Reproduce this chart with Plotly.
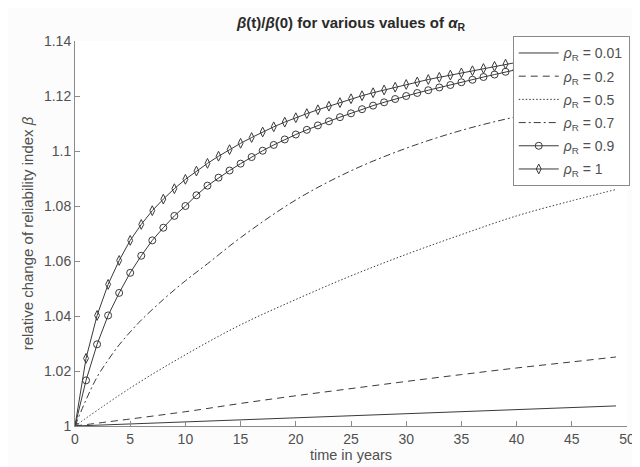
import plotly.graph_objects as go

# ---- data ----
years = list(range(0, 50))

# rho_R = 1 (diamonds), offsets above 1
rho_1 = [0.0, 0.0246, 0.0402, 0.0515, 0.0602, 0.0675, 0.0733, 0.0783, 0.0825, 0.0863,
         0.0897, 0.0927, 0.0955, 0.0981, 0.1005, 0.1028, 0.1049, 0.1069, 0.1088, 0.1105,
         0.1121, 0.1136, 0.1150, 0.1163, 0.1176, 0.1190, 0.1201, 0.1212, 0.1222, 0.1232,
         0.1242, 0.1251, 0.1260, 0.1268, 0.1276, 0.1284, 0.1292, 0.1300, 0.1308, 0.1316,
         0.1323, 0.1330, 0.1337, 0.1344, 0.1350, 0.1356, 0.1362, 0.1368, 0.1374, 0.1379]

# rho_R = 0.9 (circles)
rho_09 = [0.0, 0.0166, 0.0297, 0.0402, 0.0484, 0.0557, 0.0619, 0.0675, 0.0721, 0.0764,
          0.0800, 0.0839, 0.0874, 0.0903, 0.0929, 0.0954, 0.0978, 0.1001, 0.1022, 0.1042,
          0.1060, 0.1077, 0.1093, 0.1108, 0.1123, 0.1137, 0.1152, 0.1165, 0.1177, 0.1189,
          0.1200, 0.1211, 0.1221, 0.1231, 0.1240, 0.1250, 0.1259, 0.1269, 0.1278, 0.1288,
          0.1296, 0.1304, 0.1312, 0.1320, 0.1327, 0.1334, 0.1341, 0.1348, 0.1355, 0.1361]

# rho_R = 0.7 (dash-dot)
t_07 = [0, 1, 2, 3, 4, 5, 6, 8, 10, 12, 15, 20, 25, 30, 35, 40, 45, 49]
rho_07 = [0.0, 0.0095, 0.0178, 0.0240, 0.0295, 0.0342, 0.0385, 0.0460, 0.0528, 0.0590,
          0.0685, 0.0822, 0.0928, 0.1010, 0.1075, 0.1125, 0.1165, 0.1192]

# rho_R = 0.5 (dotted)
t_05 = [0, 5, 10, 15, 20, 25, 30, 35, 40, 45, 49]
rho_05 = [0.0, 0.0138, 0.0259, 0.0368, 0.0460, 0.0546, 0.0624, 0.0696, 0.0764, 0.0819, 0.0860]

# rho_R = 0.2 (dashed)
t_02 = [0, 10, 15, 20, 25, 30, 35, 40, 45, 49]
rho_02 = [0.0, 0.0052, 0.0082, 0.0110, 0.0136, 0.0162, 0.0187, 0.0211, 0.0233, 0.0251]

# rho_R = 0.01 (solid)
t_001 = [0, 10, 20, 30, 40, 49]
rho_001 = [0.0, 0.0015, 0.0030, 0.0045, 0.0060, 0.0073]

x_ticks = [0, 5, 10, 15, 20, 25, 30, 35, 40, 45, 50]
x_tick_labels = ["0", "5", "10", "15", "20", "25", "30", "35", "40", "45", "50"]
y_ticks = [1.0, 1.02, 1.04, 1.06, 1.08, 1.1, 1.12, 1.14]
y_tick_labels = ["1", "1.02", "1.04", "1.06", "1.08", "1.1", "1.12", "1.14"]

names = ["<i>ρ</i><sub>R</sub> = 0.01", "<i>ρ</i><sub>R</sub> = 0.2", "<i>ρ</i><sub>R</sub> = 0.5",
         "<i>ρ</i><sub>R</sub> = 0.7", "<i>ρ</i><sub>R</sub> = 0.9", "<i>ρ</i><sub>R</sub> = 1"]

LINE = "#3a3a3a"
AX = "#8a8a8a"
TXT = "#505050"
FONT = "Liberation Sans, Arial, Helvetica, sans-serif"

fig = go.Figure()

def add(x, y, name, group, dash="solid", symbol=None, spline=False):
    kw = {}
    if symbol:
        mode = "lines+markers"
        kw["marker"] = dict(symbol=symbol, size=7, color=LINE,
                            line=dict(color=LINE, width=1))
    else:
        mode = "lines"
    fig.add_trace(go.Scatter(
        x=x, y=[1 + v for v in y], name=name, mode=mode, legendgroup=group,
        line=dict(color=LINE, width=1, dash=dash,
                  shape="spline" if spline else "linear"),
        **kw))

add(t_001, rho_001, names[0], "a")
add(t_02, rho_02, names[1], "b", dash="7px,5px", spline=True)
add(t_05, rho_05, names[2], "c", dash="1.5px,2px", spline=True)
add(t_07, rho_07, names[3], "d", dash="7px,3px,2px,3px", spline=True)
add(years, rho_09, names[4], "e", symbol="circle-open")
add(years, rho_1, names[5], "f", symbol="diamond-tall-open")

fig.update_layout(
    width=640, height=467,
    margin=dict(l=67, r=21, t=33, b=49),
    paper_bgcolor="#fcfcfc",
    plot_bgcolor="#ffffff",
    font=dict(family=FONT, size=13, color=TXT),
    title=dict(text="<b><i>β</i>(t)/<i>β</i>(0) for various values of <i>α</i><sub>R</sub></b>",
               x=(67 + 619) / 2 / 640, xanchor="center", y=1 - 15 / 467, yanchor="middle",
               font=dict(size=15, color="#2a2a2a")),
    showlegend=True,
    legend=dict(x=0.793, y=1.012, xanchor="left", yanchor="top",
                bgcolor="#ffffff", bordercolor="#8a8a8a", borderwidth=1,
                font=dict(size=14, color=TXT), itemwidth=40,
                tracegroupgap=2),
    xaxis=dict(range=[0, 50], tickvals=x_ticks, ticktext=x_tick_labels,
               showgrid=False, zeroline=False, showline=True, linecolor=AX, linewidth=1,
               ticks="inside", ticklen=5, tickcolor=AX,
               tickfont=dict(size=14, color=TXT),
               title=dict(text="time in years", font=dict(size=14.5, color=TXT), standoff=3)),
    yaxis=dict(range=[1, 1.14], tickvals=y_ticks, ticktext=y_tick_labels,
               showgrid=False, zeroline=False, showline=True, linecolor=AX, linewidth=1,
               ticks="inside", ticklen=5, tickcolor=AX,
               tickfont=dict(size=14, color=TXT),
               title=dict(text="relative change of reliability index <i>β</i>",
                          font=dict(size=15, color=TXT), standoff=6)),
)

fig.write_html("out.html")
